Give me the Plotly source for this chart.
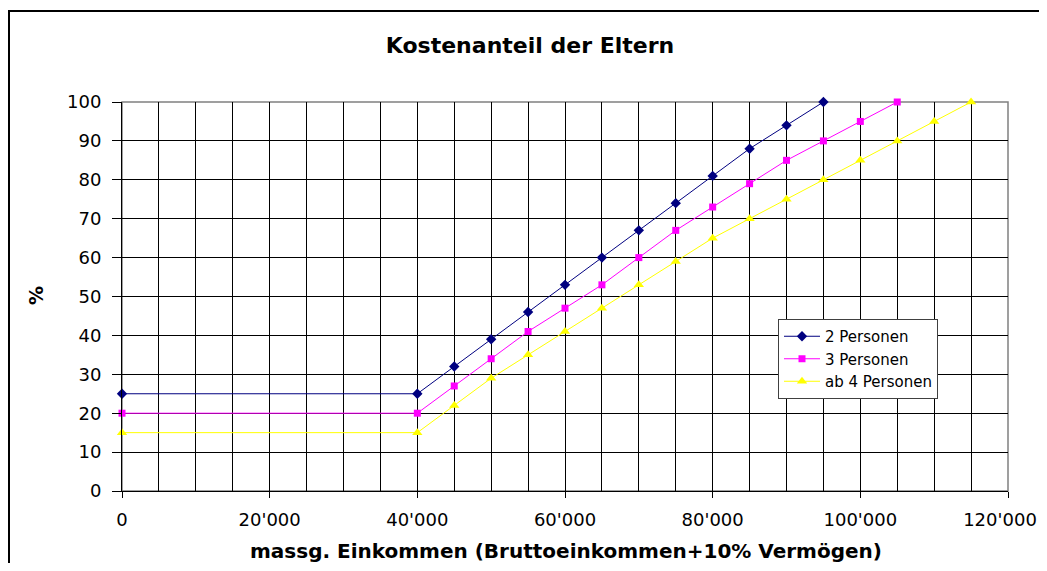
import plotly.graph_objects as go

# ---- data ----
x_2p = [0, 40000, 45000, 50000, 55000, 60000, 65000, 70000, 75000, 80000, 85000, 90000, 95000]
y_2p = [25, 25, 32, 39, 46, 53, 60, 67, 74, 81, 88, 94, 100]

x_3p = [0, 40000, 45000, 50000, 55000, 60000, 65000, 70000, 75000, 80000, 85000, 90000, 95000,
        100000, 105000]
y_3p = [20, 20, 27, 34, 41, 47, 53, 60, 67, 73, 79, 85, 90, 95, 100]

x_4p = [0, 40000, 45000, 50000, 55000, 60000, 65000, 70000, 75000, 80000, 85000, 90000, 95000,
        100000, 105000, 110000, 115000]
y_4p = [15, 15, 22, 29, 35, 41, 47, 53, 59, 65, 70, 75, 80, 85, 90, 95, 100]

series_names = ["2 Personen", "3 Personen", "ab 4 Personen"]

x_tick_vals = [0, 20000, 40000, 60000, 80000, 100000, 120000]
x_tick_text = ["0", "20'000", "40'000", "60'000", "80'000", "100'000", "120'000"]
y_tick_vals = [0, 10, 20, 30, 40, 50, 60, 70, 80, 90, 100]

title_text = "Kostenanteil der Eltern"
x_title = "massg. Einkommen (Bruttoeinkommen+10% Vermögen)"
y_title = "%"

FONT = "DejaVu Sans"
X_RANGE = [0, 120000]

fig = go.Figure()
fig.add_trace(go.Scatter(x=x_2p, y=y_2p, name=series_names[0], mode="lines+markers",
                         line=dict(color="#000080", width=1), cliponaxis=False,
                         marker=dict(symbol="diamond", size=8, color="#000080")))
fig.add_trace(go.Scatter(x=x_3p, y=y_3p, name=series_names[1], mode="lines+markers",
                         line=dict(color="#FF00FF", width=1), cliponaxis=False,
                         marker=dict(symbol="square", size=7, color="#FF00FF")))
fig.add_trace(go.Scatter(x=x_4p, y=y_4p, name=series_names[2], mode="lines+markers",
                         line=dict(color="#FFFF00", width=1), cliponaxis=False,
                         xaxis="x2",
                         marker=dict(symbol="triangle-up", size=9, color="#FFFF00")))

# page body has an 8px margin -> figure origin at page (8, 8); keep page within window
OFF = 8
W, H = 1047 - 2 * OFF, 571 - 2 * OFF
L, T = 122 - OFF, 102 - OFF
pw, ph = 886, 389
R = W - L - pw
B = H - T - ph

def px_x(px):  # page px -> paper x
    return (px - OFF - L) / pw

def px_y(py):  # page px -> paper y
    return (T + ph - (py - OFF)) / ph

fig.update_layout(
    width=W, height=H,
    margin=dict(l=L, r=R, t=T, b=B, pad=0, autoexpand=False),
    paper_bgcolor="white", plot_bgcolor="white",
    font=dict(family=FONT, size=18, color="black"),
    title=dict(text="<b>" + title_text + "</b>", x=(530 - OFF) / W, xanchor="center",
               y=1 - (45 - OFF) / H, yanchor="middle", xref="container", yref="container",
               font=dict(family=FONT, size=22, color="black")),
    showlegend=True,
    legend=dict(x=px_x(778), y=px_y(319), xanchor="left", yanchor="top",
                bgcolor="white", bordercolor="#404040", borderwidth=1,
                font=dict(family=FONT, size=15, color="black"),
                tracegroupgap=0, itemwidth=36),
)

# main x axis: all labels except the last (it would run past the page edge)
fig.update_layout(xaxis=dict(
    range=X_RANGE, tickmode="array", tickvals=x_tick_vals,
    ticktext=x_tick_text[:-1] + [""], automargin=False,
    showgrid=True, gridcolor="black", gridwidth=1,
    minor=dict(tickmode="linear", tick0=0, dtick=5000, showgrid=True,
               gridcolor="black", gridwidth=1, ticks=""),
    showline=True, linecolor="black", linewidth=1,
    ticks="outside", ticklen=6, tickcolor="black", ticklabelstandoff=6,
    zeroline=False, tickfont=dict(family=FONT, size=18),
))
# overlay axis carrying only the last label, nudged left so it stays on the page
fig.update_layout(xaxis2=dict(
    range=X_RANGE, overlaying="x", side="bottom", anchor="y", automargin=False,
    tickmode="array", tickvals=x_tick_vals[-1:], ticktext=x_tick_text[-1:],
    showgrid=False, showline=False, ticks="outside", ticklen=6,
    tickcolor="rgba(0,0,0,0)", ticklabelstandoff=6, ticklabelshift=-8,
    zeroline=False, tickfont=dict(family=FONT, size=18),
))
fig.update_yaxes(
    range=[0, 100], tickmode="array", tickvals=y_tick_vals, automargin=False,
    showgrid=True, gridcolor="black", gridwidth=1,
    showline=True, linecolor="black", linewidth=1,
    ticks="outside", ticklen=9, tickcolor="black", ticklabelstandoff=7,
    zeroline=False, tickfont=dict(family=FONT, size=18),
)

# gray plot frame on top/right
fig.add_shape(type="rect", xref="paper", yref="paper", x0=0, y0=0, x1=1, y1=1,
              line=dict(color="#808080", width=1.5), layer="between")

# outer chart frame (left/top edges visible)
fig.add_shape(type="rect", xref="paper", yref="paper",
              x0=px_x(9), y0=px_y(600), x1=px_x(1070), y1=px_y(11),
              line=dict(color="black", width=2), layer="above")

fig.add_annotation(text="<b>" + x_title + "</b>", xref="paper", yref="paper",
                   x=px_x(566), y=px_y(551), xanchor="center", yanchor="middle",
                   showarrow=False, font=dict(family=FONT, size=20, color="black"))
fig.add_annotation(text="<b>" + y_title + "</b>", xref="paper", yref="paper",
                   x=px_x(36), y=px_y(296), xanchor="center", yanchor="middle",
                   textangle=-90, showarrow=False,
                   font=dict(family=FONT, size=19, color="black"))

fig.write_html("out.html")
